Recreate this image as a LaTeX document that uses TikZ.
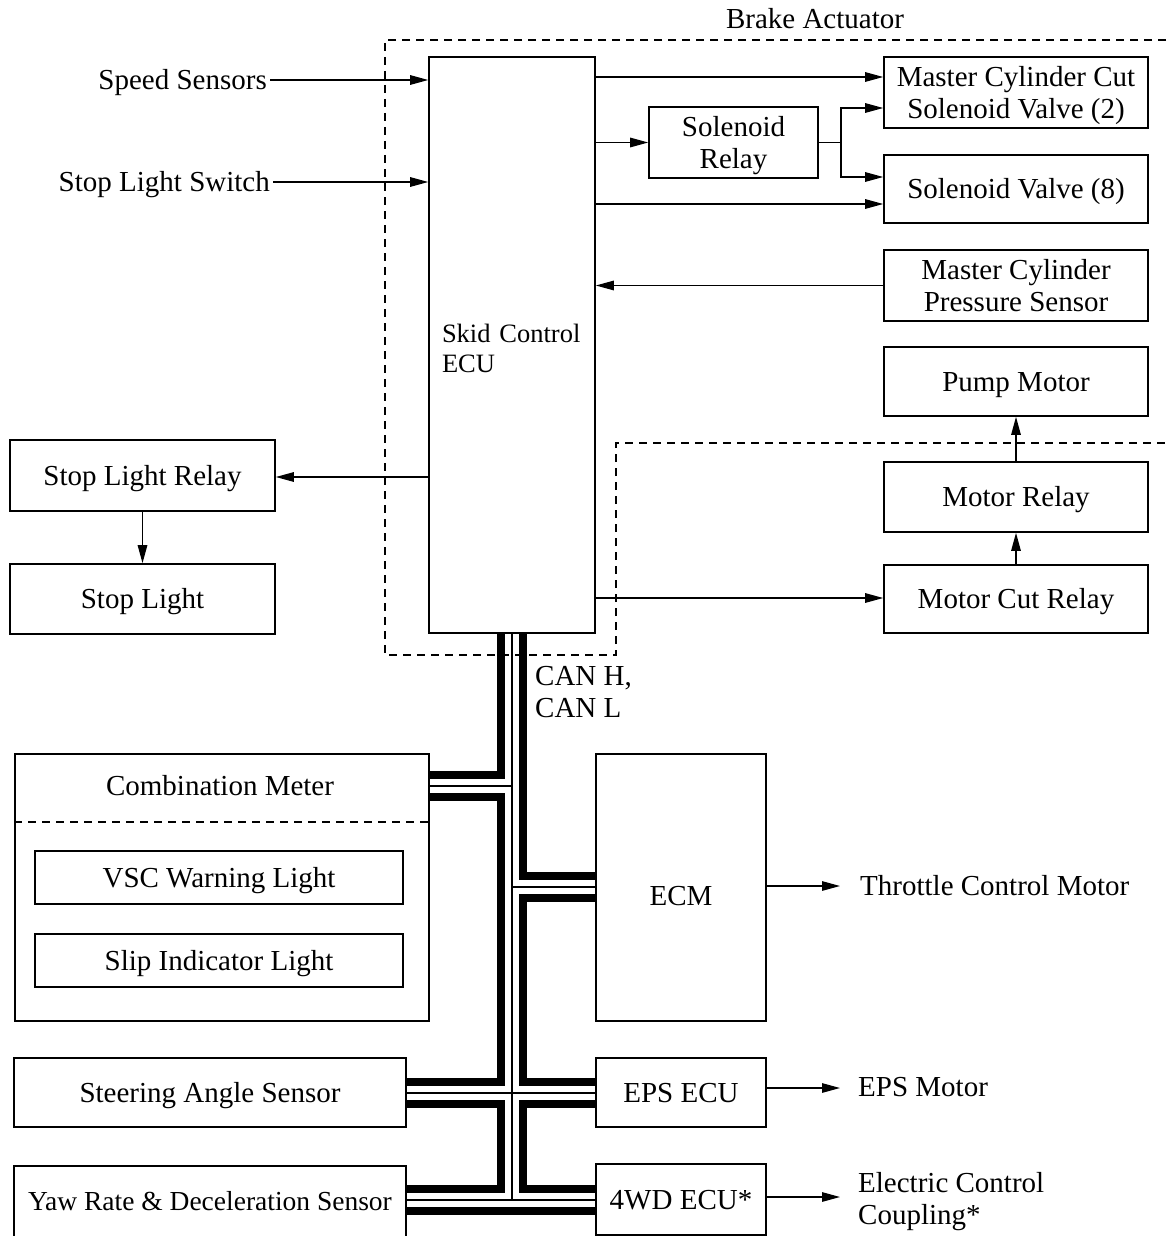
\documentclass[tikz,border=0pt]{standalone}
\usepackage{fontspec}
\setmainfont{Liberation Serif}
\usetikzlibrary{arrows.meta}
\pgfdeclarelayer{background}
\pgfsetlayers{background,main}
\newcommand\mainfs{\fontsize{29}{32}\selectfont}
\newcommand\ecufs{\fontsize{26.5}{30}\selectfont}
\newcommand\yawfs{\fontsize{27.5}{30}\selectfont}
\newcommand\tstrut{\rule[-6.4pt]{0pt}{32pt}}
\newcommand\nl{\tstrut\\\tstrut}
\begin{document}
\begin{tikzpicture}[x=1pt,y=-1pt,
  box/.style={draw, line width=1.6pt, inner sep=0pt, align=center, font=\mainfs, execute at begin node=\tstrut},
  lbl/.style={inner sep=3pt, font=\mainfs, align=left, execute at begin node=\tstrut},
  conn/.style={line width=1.3pt, -{Triangle[length=18pt,width=9.5pt]}},
  wire/.style={line width=1.3pt},
  dsh/.style={line width=1.6pt, dash pattern=on 8pt off 6pt},
  busout/.style={line width=30pt, black},
  busin/.style={line width=14pt, white},
  buscen/.style={line width=1.3pt, black}]
\useasboundingbox (0,0) rectangle (1169,1236);

% Brake actuator boundary
\draw[dsh] (1180,40) -- (385,40) -- (385,655) -- (616,655) -- (616,443) -- (1180,443);
\node[lbl] (brake) at (815,19) {Brake Actuator};

% Skid control ECU
\node[box, execute at begin node=\relax, minimum width=166pt, minimum height=576pt, text width=140pt, align=left, font=\ecufs] (ecu) at (512,345) {Skid Control\\ECU};

% actuator side
\node[box, minimum width=264pt, minimum height=71pt] (mccut) at (1016,92.5) {Master Cylinder Cut\nl Solenoid Valve (2)};
\node[box, minimum width=169pt, minimum height=71pt] (relay) at (733.5,142.5) {Solenoid\nl Relay};
\node[box, minimum width=264pt, minimum height=68pt] (sv8) at (1016,189) {Solenoid Valve (8)};
\node[box, minimum width=264pt, minimum height=71pt] (mcps) at (1016,285.5) {Master Cylinder\nl Pressure Sensor};
\node[box, minimum width=264pt, minimum height=69pt] (pump) at (1016,381.5) {Pump Motor};
\node[box, minimum width=264pt, minimum height=70pt] (mrelay) at (1016,497) {Motor Relay};
\node[box, minimum width=264pt, minimum height=68pt] (mcut) at (1016,599) {Motor Cut Relay};

% left side
\node[lbl, anchor=east] (speed) at (270,80) {Speed Sensors};
\node[lbl, anchor=east] (stopsw) at (273,182) {Stop Light Switch};
\node[box, minimum width=265pt, minimum height=71pt] (slrelay) at (142.5,475.5) {Stop Light Relay};
\node[box, minimum width=265pt, minimum height=70pt] (slight) at (142.5,599) {Stop Light};

% CAN nodes
\node[lbl, anchor=west] (can) at (532,692) {CAN H,\nl CAN L};
\node[box, minimum width=414pt, minimum height=267pt] (meter) at (222,887.5) {};
\node[lbl] (metertext) at (220,786) {Combination Meter};
\draw[dsh] (meter.west |- 0,822) -- (meter.east |- 0,822);
\node[box, minimum width=368pt, minimum height=53pt] (vsc) at (219,877.5) {VSC Warning Light};
\node[box, minimum width=368pt, minimum height=53pt] (slip) at (219,960.5) {Slip Indicator Light};
\node[box, minimum width=170pt, minimum height=267pt] (ecm) at (681,887.5) {};
\node[lbl] (ecmtext) at (681,896) {ECM};
\node[box, minimum width=392pt, minimum height=69pt] (steer) at (210,1092.5) {Steering Angle Sensor};
\node[box, minimum width=170pt, minimum height=69pt] (eps) at (681,1092.5) {EPS ECU};
\node[inner sep=0pt, minimum width=392pt, minimum height=70pt, font=\yawfs] (yaw) at (210,1201) {Yaw Rate \& Deceleration Sensor};
\draw[line width=1.6pt] (yaw.south west) -- (yaw.north west) -- (yaw.north east) -- (yaw.south east);
\node[box, minimum width=170pt, minimum height=71pt] (wd) at (681,1199.5) {4WD ECU*};

\node[lbl, anchor=west] (throttle) at (857,886) {Throttle Control Motor};
\node[lbl, anchor=west] (epsm) at (855,1087) {EPS Motor};
\node[lbl, anchor=west] (ecc) at (855,1199) {Electric Control\nl Coupling*};

% connectors
\draw[conn] (speed.east) -- (ecu.west |- speed.east);
\draw[conn] (stopsw.east) -- (ecu.west |- stopsw.east);
\draw[conn] (ecu.east |- 0,77) -- (mccut.west |- 0,77);
\draw[conn] (ecu.east |- relay.west) -- (relay.west);
\coordinate (split) at (841,142.5);
\draw[wire] (relay.east) -- (split);
\draw[conn] (split) |- (mccut.west |- 0,108);
\draw[conn] (split) |- (sv8.west |- 0,177);
\draw[conn] (ecu.east |- 0,204) -- (sv8.west |- 0,204);
\draw[conn] (mcps.west) -- (ecu.east |- mcps.west);
\draw[conn] (ecu.east |- 0,598) -- (mcut.west |- 0,598);
\draw[conn] (mcut.north) -- (mrelay.south);
\draw[conn] (mrelay.north) -- (pump.south);
\draw[conn] (ecu.west |- 0,477) -- (slrelay.east |- 0,477);
\draw[conn] (slrelay.south) -- (slight.north);
\draw[conn, shorten >=17pt] (ecm.east |- throttle.west) -- (throttle.west);
\draw[conn, shorten >=15pt] (eps.east |- 0,1088) -- (epsm.west |- 0,1088);
\draw[conn, shorten >=15pt] (wd.east |- 0,1197) -- (ecc.west |- 0,1197);

% CAN bus
\begin{pgfonlayer}{background}
\foreach \sty in {busout,busin,buscen}{
  \draw[\sty] (ecu.south) -- (ecu.south |- 0,1200);
  \draw[\sty] (meter.east |- 0,786) -- (ecu.south |- 0,786);
  \draw[\sty] (ecu.south |- 0,887) -- (ecm.west |- 0,887);
  \draw[\sty] (steer.east |- 0,1093) -- (eps.west |- 0,1093);
  \draw[\sty] (yaw.east |- 0,1200) -- (wd.west |- 0,1200);
}
\end{pgfonlayer}
\end{tikzpicture}
\end{document}
